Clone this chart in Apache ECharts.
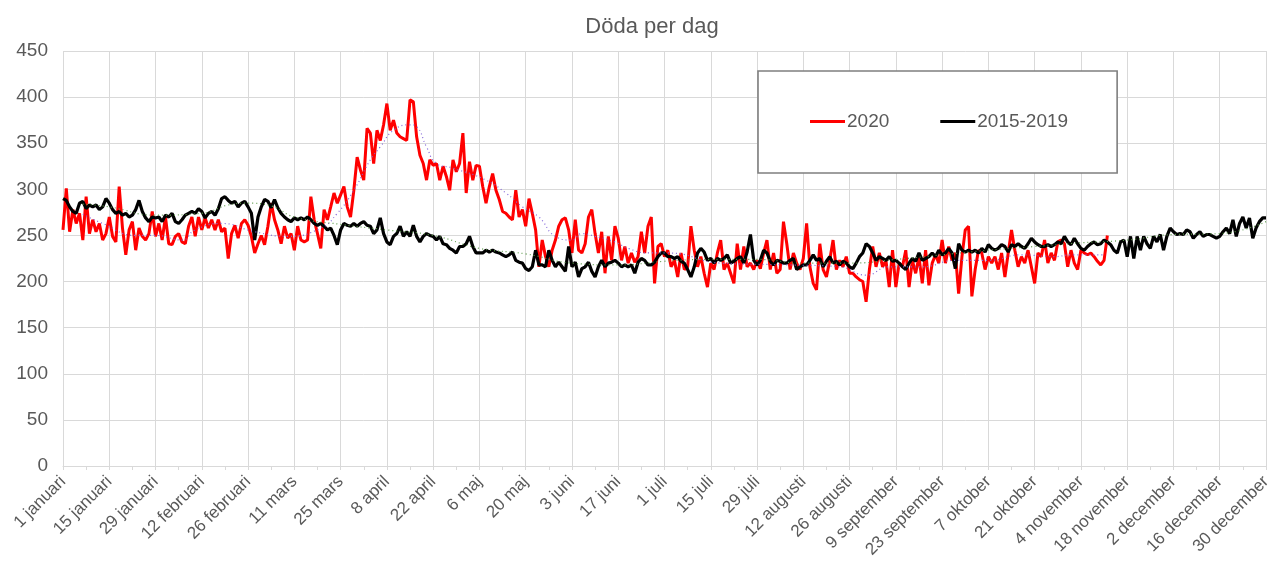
<!DOCTYPE html>
<html>
<head>
<meta charset="utf-8">
<title>Döda per dag</title>
<script src="https://cdn.jsdelivr.net/npm/echarts@6/dist/echarts.min.js"></script>
<style>
  html, body { margin: 0; padding: 0; background: #fff; }
  #chart { width: 1277px; height: 576px; }
</style>
</head>
<body>
<div id="chart"></div>
<script>
// månader och dagar (2020 är skottår), axeln går 1 januari - 30 december
const manader = ['januari', 'februari', 'mars', 'april', 'maj', 'juni', 'juli', 'augusti', 'september', 'oktober', 'november', 'december']
const dagarPerManad = [31, 29, 31, 30, 31, 30, 31, 31, 30, 31, 30, 31]
const antalDagar = 365

const yTicks = [0, 50, 100, 150, 200, 250, 300, 350, 400, 450]

// döda per dag 2020 (till mitten av november)
const doda2020 = [
  256, 301, 254, 278, 263, 274, 245, 292, 252, 267, 254, 263, 245, 252, 270, 249, 243, 303, 258, 229,
  256, 265, 234, 258, 249, 245, 252, 276, 249, 263, 245, 270, 241, 240, 249, 252, 243, 241, 260, 270,
  249, 270, 256, 269, 258, 267, 256, 267, 254, 258, 225, 252, 261, 247, 263, 267, 261, 249, 231, 241,
  250,
  240, 260, 285, 267, 256, 241, 260, 247, 252, 234, 260, 245, 243, 245, 292, 267, 252, 236, 278, 267,
  281, 296, 285, 294, 303, 281, 270, 299, 335, 321, 310, 366, 361, 328, 364, 353, 370, 393, 364, 375,
  361, 357, 355, 353, 397, 395, 357, 337, 328, 310, 332, 326, 328, 310, 325, 314, 299, 332, 319, 328,
  361,
  296, 330, 310, 326, 325, 303, 285, 303, 317, 299, 289, 276, 274, 270, 267, 299, 270, 278, 260, 290,
  274, 256, 216, 245, 227, 216, 234, 245, 260, 267, 269, 256, 231, 267, 234, 231, 241, 270, 278, 252,
  231, 254, 209, 249, 223, 260, 247, 223, 238, 220, 231, 221, 227, 254, 231, 260, 270, 198, 238, 241,
  227, 234, 216, 223, 205, 231, 213, 216, 260, 234, 216, 227, 209, 194, 220, 213, 231, 245, 213, 220,
  209, 198, 241, 213, 238, 216, 220, 213, 223, 214, 231, 245, 213, 231, 209, 213, 265, 241, 213, 231,
  220, 213, 225, 263, 216, 198, 191, 241, 213, 205, 223, 245, 213, 223, 216, 227, 209, 209, 205, 202,
  200,
  178, 213, 238, 216, 231, 216, 223, 194, 234, 194, 220, 216, 234, 194, 223, 209, 227, 198, 234, 196,
  220, 229, 220, 245, 220, 238, 223, 231, 187, 227, 256, 260, 184, 213, 234, 231, 213, 227, 220, 227,
  213, 231, 205, 231, 256, 234, 216, 227, 220, 234, 216, 198, 231, 227, 245, 220, 231, 223, 243, 245,
  241, 216, 234, 220, 213, 234, 231, 229, 231, 227, 222, 218, 223, 250
]

// genomsnitt 2015-2019
const doda2015_2019 = [
  290, 288, 281, 276, 274, 285, 287, 279, 283, 281, 283, 278, 281, 290, 285, 278, 274, 276, 272, 274,
  270, 272, 278, 288, 276, 269, 265, 270, 269, 270, 265, 272, 270, 274, 265, 263, 267, 272, 274, 276,
  274, 279, 276, 269, 274, 276, 272, 279, 290, 292, 288, 285, 287, 281, 285, 287, 281, 274, 245, 270,
  281, 289, 287, 280, 289, 280, 274, 270, 267, 265, 269, 267, 269, 267, 270, 267, 263, 261, 263, 260,
  256, 258, 250, 240, 256, 263, 261, 260, 263, 260, 263, 265, 261, 260, 252, 256, 269, 252, 243, 240,
  249, 252, 260, 249, 254, 249, 261, 249, 243, 249, 252, 250, 249, 245, 249, 241, 240, 236, 234, 231,
  238,
  238, 241, 249, 238, 231, 231, 231, 234, 232, 234, 232, 231, 229, 227, 229, 232, 223, 221, 220, 214,
  212, 216, 234, 218, 218, 216, 234, 223, 216, 221, 216, 211, 238, 216, 221, 205, 214, 216, 221, 211,
  205, 216, 223, 216, 220, 221, 223, 220, 216, 218, 216, 218, 209, 221, 225, 223, 218, 218, 221, 227,
  231,
  231, 227, 227, 225, 227, 222, 220, 213, 205, 216, 231, 236, 232, 223, 225, 220, 225, 223, 225, 229,
  220, 222, 225, 227, 220, 232, 251, 223, 218, 223, 234, 231, 222, 218, 223, 222, 220, 220, 223, 225,
  213, 216, 218, 218, 223, 229, 223, 225, 216, 222, 227, 220, 222, 218, 222, 220, 216, 214, 220, 227,
  231,
  241, 238, 231, 223, 227, 225, 223, 227, 222, 223, 220, 216, 213, 220, 225, 222, 231, 223, 225, 227,
  231, 227, 234, 229, 231, 236, 231, 214, 241, 234, 232, 234, 232, 234, 231, 236, 232, 240, 236, 234,
  236, 240, 238, 232, 240, 238, 241, 238, 236, 241, 247, 243, 240, 238, 238, 240, 238, 240, 243, 241,
  249, 243, 240, 247, 241, 236, 234, 238, 241, 243, 240, 241, 245, 243, 240, 234, 231, 243, 245, 227,
  249, 225, 249, 234, 249, 241, 236, 249, 243, 251, 234, 249, 258, 254, 251, 252, 251, 256, 254, 247,
  251, 254, 249, 251, 251, 249, 247, 249, 254, 258, 252, 267, 249, 263, 270, 258, 269, 247, 258, 265,
  269, 269
]

// glidande medel (prickade trendlinjer), avlästa ungefär en gång i veckan: [dag, värde]
const trend2020 = [
  [6, 273], [12, 263], [22, 250], [28, 250], [36, 245], [40, 256], [48, 263], [58, 254],
  [68, 249], [78, 258], [83, 274], [88, 299], [93, 332], [96, 346], [100, 364], [105, 370],
  [107, 368], [110, 346], [113, 328], [118, 323], [128, 310], [134, 296], [139, 281], [144, 270],
  [149, 249], [154, 245], [157, 252], [161, 249], [167, 243], [171, 236], [177, 231], [183, 231],
  [199, 220], [220, 218], [235, 216], [243, 207], [250, 216], [260, 216], [270, 223], [280, 223],
  [290, 229], [300, 227], [305, 229], [315, 229]
]
const trendSnitt = [
  [6, 284], [14, 281], [28, 272], [42, 274], [50, 283], [56, 285], [63, 282], [70, 270],
  [84, 262], [98, 256], [112, 250], [126, 236], [140, 230], [154, 220], [168, 218], [182, 222],
  [196, 224], [210, 224], [224, 220], [238, 220], [252, 224], [266, 229], [280, 234], [294, 238],
  [308, 242], [322, 245], [336, 251], [350, 252], [364, 265]
]

let dagar = []
manader.forEach((m, i) => {
  for (let d = 1; d <= dagarPerManad[i]; d++) {
    dagar.push(d + ' ' + m)
  }
})
dagar = dagar.slice(0, antalDagar)

const textColor = '#595959'
const gridColor = '#d9d9d9'
const font = 'Liberation Sans, Arial, sans-serif'

let myChart = echarts.init(document.getElementById('chart'))
let option = {
  animation: false,
  backgroundColor: '#fff',
  title: {
    text: 'Döda per dag',
    left: 647,
    textAlign: 'center',
    top: 11,
    textStyle: {
      fontFamily: font,
      fontSize: 22,
      fontWeight: 'normal',
      color: textColor
    }
  },
  legend: {
    data: ['2020', '2015-2019'],
    left: 758,
    top: 71,
    padding: [41, 49, 42, 52],
    itemGap: 51,
    itemWidth: 35,
    itemHeight: 3,
    icon: 'rect',
    backgroundColor: '#fff',
    borderColor: '#7f7f7f',
    borderWidth: 1.6,
    textStyle: {
      fontFamily: font,
      fontSize: 19,
      color: textColor,
      padding: [0, 0, 0, -3]
    }
  },
  grid: {
    left: 63,
    right: 11,
    top: 51,
    bottom: 110,
    containLabel: false
  },
  xAxis: [{
    type: 'category',
    data: dagar,
    boundaryGap: false,
    axisLine: { lineStyle: { color: gridColor, width: 1 } },
    axisTick: {
      interval: 6,
      length: 4,
      lineStyle: { color: gridColor }
    },
    axisLabel: {
      interval: 13,
      rotate: 45,
      margin: 13,
      fontFamily: font,
      fontSize: 17,
      color: textColor
    },
    splitLine: {
      show: true,
      interval: 13,
      lineStyle: { color: gridColor, width: 1 }
    }
  }, {
    // dold värdeaxel för trendlinjerna
    type: 'value',
    min: 0,
    max: antalDagar - 1,
    show: false
  }],
  yAxis: {
    type: 'value',
    min: yTicks[0],
    max: yTicks[yTicks.length - 1],
    interval: 50,
    axisLine: { show: false },
    axisTick: { show: false },
    axisLabel: {
      fontFamily: font,
      fontSize: 19,
      color: textColor,
      margin: 15
    },
    splitLine: { lineStyle: { color: gridColor, width: 1 } }
  },
  series: [{
    name: '2020',
    type: 'line',
    data: doda2020,
    symbol: 'none',
    lineStyle: { color: '#ff0000', width: 3 },
    itemStyle: { color: '#ff0000' },
    z: 2
  }, {
    name: '2015-2019',
    type: 'line',
    data: doda2015_2019,
    symbol: 'none',
    lineStyle: { color: '#000000', width: 3.2 },
    itemStyle: { color: '#000000' },
    z: 3
  }, {
    name: 'Glidande medel 2020',
    type: 'line',
    xAxisIndex: 1,
    data: trend2020,
    smooth: true,
    symbol: 'none',
    lineStyle: { color: '#8064d8', width: 1.2, type: [1, 3] },
    z: 4
  }, {
    name: 'Glidande medel 2015-2019',
    type: 'line',
    xAxisIndex: 1,
    data: trendSnitt,
    smooth: true,
    symbol: 'none',
    lineStyle: { color: '#5a9a48', width: 1.2, type: [1, 3] },
    z: 4
  }]
}
myChart.setOption(option)
</script>
</body>
</html>
